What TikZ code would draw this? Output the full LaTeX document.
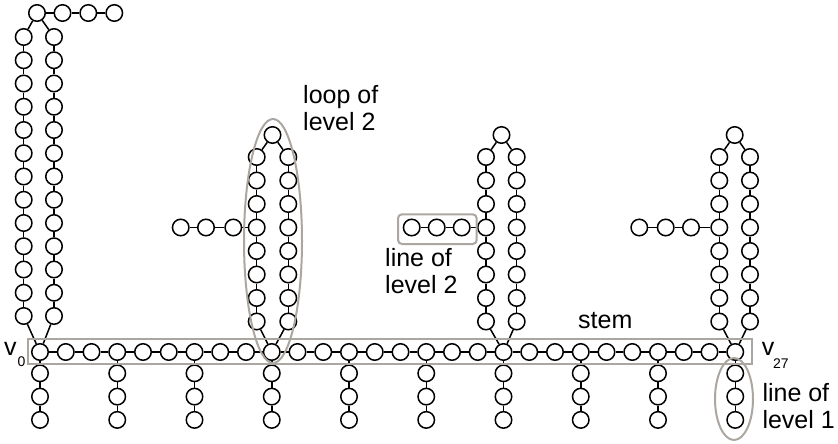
\documentclass[tikz,border=0pt]{standalone}
\usepackage{fontspec}
\setmainfont{Liberation Sans}
\definecolor{hlgray}{RGB}{172,166,160}
\begin{document}
\begin{tikzpicture}[x=1pt,y=-1pt,
  vert/.style={circle,draw=black,line width=1.5pt,minimum size=16.5pt,inner sep=0pt},
  edge/.style={line width=1.5pt},
  hl/.style={draw=hlgray,line width=2pt},
  lbl/.style={inner sep=0pt,anchor=base west,font=\fontsize{25}{27}\selectfont},
  sub/.style={inner sep=0pt,anchor=base west,font=\fontsize{14}{16}\selectfont}]
\useasboundingbox (0,0) rectangle (838,444);

% the stem v_0 ... v_27
\foreach \i in {0,...,27}
  \node[vert] (s\i) at ({40+25.75*\i},352) {};
\foreach \i in {1,...,27} {
  \pgfmathtruncatemacro\p{\i-1}
  \draw[edge] (s\p) -- (s\i);
}

% lines of level 1 hanging below every third stem vertex
\foreach \i in {0,3,...,27} {
  \foreach \k in {1,2,3}
    \node[vert] (d\i k\k) at ({40+25.75*\i},{350+23.3*\k}) {};
  \draw[edge] (s\i) -- (d\i k1) -- (d\i k2) -- (d\i k3);
}

% loops: root / left column x / right column x / apex x / apex y / first row y / row step / last row
\foreach \r/\xl/\xr/\xa/\ya/\yt/\dy/\n in
  {0/23.7/54/37/13/37/23.25/12,
   9/256.7/288.3/272.5/135/157/23.5/7,
   18/486/516.7/501.5/135/157/23.5/7,
   27/719.3/750/734.7/135/157/23.5/7} {
  \node[vert] (a\r) at (\xa,\ya) {};
  \foreach \k in {0,...,\n} {
    \node[vert] (l\r k\k) at (\xl,{\yt+\dy*\k}) {};
    \node[vert] (r\r k\k) at (\xr,{\yt+\dy*\k}) {};
  }
  \draw[edge] (a\r) -- (l\r k0);
  \draw[edge] (a\r) -- (r\r k0);
  \foreach \k in {1,...,\n} {
    \pgfmathtruncatemacro\p{\k-1}
    \draw[edge] (l\r k\p) -- (l\r k\k);
    \draw[edge] (r\r k\p) -- (r\r k\k);
  }
  \draw[edge] (l\r k\n) -- (s\r);
  \draw[edge] (r\r k\n) -- (s\r);
}

% lines of level 2
\node[vert] (t1) at (62.5,13) {};
\node[vert] (t2) at (88.3,13) {};
\node[vert] (t3) at (114.3,13) {};
\draw[edge] (a0) -- (t1) -- (t2) -- (t3);

\node[vert] (p1) at (233.3,227.5) {};
\node[vert] (p2) at (206,227.5) {};
\node[vert] (p3) at (180.7,227.5) {};
\draw[edge] (l9k3) -- (p1) -- (p2) -- (p3);

\node[vert] (q1) at (461.7,227.5) {};
\node[vert] (q2) at (436.7,227.5) {};
\node[vert] (q3) at (411.7,227.5) {};
\draw[edge] (l18k3) -- (q1) -- (q2) -- (q3);

\node[vert] (w1) at (691,227.5) {};
\node[vert] (w2) at (665.7,227.5) {};
\node[vert] (w3) at (639.3,227.5) {};
\draw[edge] (l27k3) -- (w1) -- (w2) -- (w3);

% highlighted parts
\draw[hl] (28.3,339.3) rectangle (751.7,364);
\draw[hl,rounded corners=4pt] (398,214.3) rectangle (476.7,244);
\draw[hl] (273,241) ellipse [x radius=29,y radius=122];
\draw[hl] (734,399) ellipse [x radius=19,y radius=41];

% labels
\node[lbl] (looplbl1) at (303,103) {loop of};
\node[lbl] (looplbl2) at (303,130) {level 2};
\node[lbl] (linelbl1) at (385,266) {line of};
\node[lbl] (linelbl2) at (385,293) {level 2};
\node[lbl] (stemlbl) at (578,328) {stem};
\node[lbl] (v0) at (4,355) {v};
\node[sub] (v0sub) at (17.3,366.7) {0};
\node[lbl] (v27) at (761.7,355) {v};
\node[sub] (v27sub) at (773,368) {27};
\node[lbl] (l1lbl1) at (762.3,401.7) {line of};
\node[lbl] (l1lbl2) at (762.3,428.3) {level 1};
\end{tikzpicture}
\end{document}
